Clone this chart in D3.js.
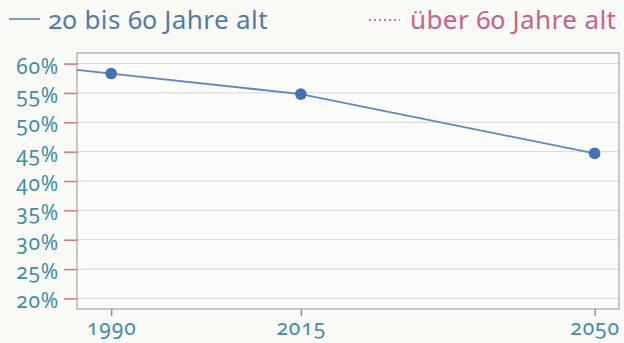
<!DOCTYPE html>
<html>
<head>
<meta charset="utf-8">
<script src="https://cdn.jsdelivr.net/npm/d3@7/dist/d3.min.js"></script>
<style>
  html, body { margin: 0; padding: 0; background: #f9f9f6; }
  svg { display: block; }
  text { font-family: "Noto Sans", "Open Sans", sans-serif; font-variant-numeric: oldstyle-nums; }
</style>
</head>
<body>
<svg id="chart" width="624" height="343"></svg>
<script>
// Share of the population aged 20 to 60 (in percent)
const years = [1990, 2015, 2050];
const share20to60 = [58.3, 54.8, 44.7];
const yTicks = [20, 25, 30, 35, 40, 45, 50, 55, 60];
const seriesNames = ["20 bis 60 Jahre alt", "über 60 Jahre alt"];

const W = 624, H = 343;
const margin = { top: 53, right: 5, bottom: 34, left: 77 };
const innerW = W - margin.left - margin.right;
const innerH = H - margin.top - margin.bottom;

const svg = d3.select("#chart");

// Uneven spacing of the year axis as drawn in the print layout
const x = d3.scaleLinear()
  .domain(years)
  .range([0.063, 0.413, 0.955].map(f => f * innerW));

const y = d3.scaleLinear()
  .domain([18.2, 61.8])
  .range([innerH, 0]);

const g = svg.append("g").attr("transform", `translate(${margin.left},${margin.top})`);

// plot background
g.append("rect")
  .attr("width", innerW).attr("height", innerH)
  .attr("fill", "#fbfbf9");

// horizontal gridlines
g.append("g")
  .selectAll("line")
  .data(yTicks)
  .join("line")
  .attr("x1", 0).attr("x2", innerW)
  .attr("y1", d => y(d)).attr("y2", d => y(d))
  .attr("stroke", "#d6d6d3").attr("stroke-width", 1);

// frame
g.append("rect")
  .attr("width", innerW).attr("height", innerH)
  .attr("fill", "none")
  .attr("stroke", "#a3a3a0").attr("stroke-width", 1.2);

// y axis
const yAxis = g.append("g")
  .call(d3.axisLeft(y).tickValues(yTicks).tickSize(13).tickPadding(5).tickFormat(d => d + "%"));
yAxis.select(".domain").remove();
yAxis.selectAll(".tick line").attr("stroke", "#dc6f8f").attr("stroke-width", 1.5);
yAxis.selectAll(".tick text")
  .attr("fill", "#428fa2")
  .attr("font-size", 21)
  .attr("letter-spacing", 0.8)
  .attr("dy", "0.45em");

// x axis
const xAxis = g.append("g")
  .attr("transform", `translate(0,${innerH})`)
  .call(d3.axisBottom(x).tickValues(years).tickSize(7).tickPadding(4).tickFormat(d3.format("d")));
xAxis.select(".domain").remove();
xAxis.selectAll(".tick line").attr("stroke", "#dc6f8f").attr("stroke-width", 1.5);
xAxis.selectAll(".tick text")
  .attr("fill", "#428fa2")
  .attr("font-size", 21)
  .attr("letter-spacing", 1);

// the line continues the first segment back to the left frame edge
const startYear = x.invert(0);
const lineData = [{ year: startYear, v: null }].concat(years.map((yr, i) => ({ year: yr, v: share20to60[i] })));
const ext = d3.scaleLinear().domain(years.slice(0, 2)).range(share20to60.slice(0, 2));
lineData[0].v = ext(startYear);

g.append("path")
  .datum(lineData)
  .attr("fill", "none")
  .attr("stroke", "#5d87c4")
  .attr("stroke-width", 1.8)
  .attr("d", d3.line().x(d => x(d.year)).y(d => y(d.v)));

g.selectAll("circle")
  .data(years)
  .join("circle")
  .attr("cx", d => x(d))
  .attr("cy", (d, i) => y(share20to60[i]))
  .attr("r", 5.8)
  .attr("fill", "#4271b4");

// legend
const legend = svg.append("g");
legend.append("line")
  .attr("x1", 9).attr("x2", 40).attr("y1", 19).attr("y2", 19)
  .attr("stroke", "#6086b8").attr("stroke-width", 1.6);
legend.append("text")
  .attr("x", 48).attr("y", 29)
  .attr("fill", "#5279ad")
  .attr("font-size", 26)
  .attr("letter-spacing", 0.4)
  .text(seriesNames[0]);

legend.append("line")
  .attr("x1", 369).attr("x2", 400).attr("y1", 20).attr("y2", 20)
  .attr("stroke", "#d4729a").attr("stroke-width", 1.8)
  .attr("stroke-dasharray", "2,3");
legend.append("text")
  .attr("x", 410).attr("y", 29)
  .attr("fill", "#c9628c")
  .attr("font-size", 26)
  .attr("letter-spacing", 0.4)
  .text(seriesNames[1]);
</script>
</body>
</html>
